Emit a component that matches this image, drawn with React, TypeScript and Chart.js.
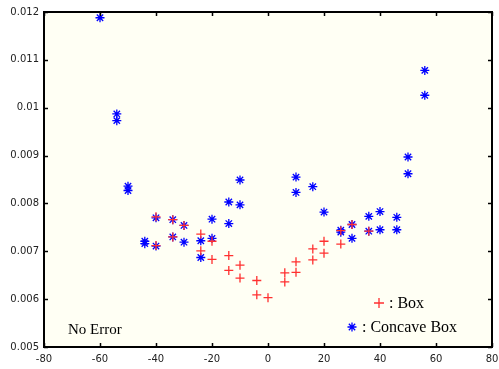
import React, { useEffect, useRef } from "react";
import { Chart, registerables } from "chart.js";

Chart.register(...registerables);

const boxAngles = [-40, -40, -34, -34, -30, -24, -24, -20, -20, -14, -14, -10, -10, -4, -4, 0, 6, 6, 10, 10, 16, 16, 20, 20, 26, 26, 30, 36];
const boxValues = [0.00772, 0.00712, 0.00766, 0.0073, 0.00754, 0.00736, 0.00701, 0.00721, 0.00683, 0.00691, 0.0066, 0.00671, 0.00644, 0.00639, 0.00609, 0.00603, 0.00655, 0.00636, 0.00678, 0.00656, 0.00705, 0.00682, 0.00721, 0.00696, 0.00743, 0.00715, 0.00756, 0.00742];

const concaveAngles = [-60, -54, -54, -50, -50, -44, -44, -40, -40, -34, -34, -30, -30, -24, -24, -20, -20, -14, -14, -10, -10, 10, 10, 16, 20, 26, 26, 30, 30, 36, 36, 40, 40, 46, 46, 50, 50, 56, 56];
const concaveValues = [0.01188, 0.00987, 0.00973, 0.00836, 0.00827, 0.00721, 0.00716, 0.0077, 0.00711, 0.00766, 0.0073, 0.00754, 0.00719, 0.00722, 0.00687, 0.00767, 0.00727, 0.00803, 0.00758, 0.00849, 0.00797, 0.00855, 0.00823, 0.00835, 0.00782, 0.00744, 0.0074, 0.00756, 0.00727, 0.00773, 0.00742, 0.00783, 0.00745, 0.00771, 0.00745, 0.00897, 0.00862, 0.01078, 0.01026];

const xTicks = [-80, -60, -40, -20, 0, 20, 40, 60, 80];
const yTicks = [0.005, 0.006, 0.007, 0.008, 0.009, 0.01, 0.011, 0.012];

const seriesLabels = ["Box", "Concave Box"];
const annotationText = "No Error";

const RED = "#ff3030";
const BLUE = "#0000ff";

const framePlugin = {
  id: "frame",
  beforeDraw(chart: any) {
    const { ctx, chartArea } = chart;
    ctx.save();
    ctx.fillStyle = "#fffff4";
    ctx.fillRect(chartArea.left, chartArea.top, chartArea.right - chartArea.left, chartArea.bottom - chartArea.top);
    ctx.restore();
  },
  afterDraw(chart: any) {
    const { ctx, chartArea } = chart;
    const xs = chart.scales.x;
    const ys = chart.scales.y;
    const { left, right, top, bottom } = chartArea;
    ctx.save();
    ctx.strokeStyle = "#000";
    ctx.lineWidth = 2;
    ctx.strokeRect(left, top, right - left, bottom - top);
    ctx.lineWidth = 1.5;
    const t = 4;
    ctx.beginPath();
    xTicks.forEach((v) => {
      const px = Math.round(xs.getPixelForValue(v)) + 0.5;
      ctx.moveTo(px, bottom);
      ctx.lineTo(px, bottom - t);
      ctx.moveTo(px, top);
      ctx.lineTo(px, top + t);
    });
    yTicks.forEach((v) => {
      const py = Math.round(ys.getPixelForValue(v)) + 0.5;
      ctx.moveTo(left, py);
      ctx.lineTo(left + t, py);
      ctx.moveTo(right, py);
      ctx.lineTo(right - t, py);
    });
    ctx.stroke();

    // annotation
    ctx.fillStyle = "#000";
    ctx.font = "15px 'Liberation Serif', serif";
    ctx.textBaseline = "middle";
    ctx.textAlign = "left";
    ctx.fillText(annotationText, left + 24, bottom - 17);

    // legend
    ctx.font = "16px 'Liberation Serif', serif";
    const lx1 = right - 113;
    const ly1 = bottom - 44;
    ctx.strokeStyle = RED;
    ctx.lineWidth = 1.3;
    ctx.beginPath();
    ctx.moveTo(lx1 - 5, ly1);
    ctx.lineTo(lx1 + 5, ly1);
    ctx.moveTo(lx1, ly1 - 5);
    ctx.lineTo(lx1, ly1 + 5);
    ctx.stroke();
    ctx.fillText(": " + seriesLabels[0], lx1 + 10, ly1 + 1);

    const lx2 = right - 140;
    const ly2 = bottom - 20;
    ctx.strokeStyle = BLUE;
    ctx.lineWidth = 1.3;
    ctx.beginPath();
    const r = 4.5;
    ctx.moveTo(lx2 - r, ly2);
    ctx.lineTo(lx2 + r, ly2);
    ctx.moveTo(lx2, ly2 - r);
    ctx.lineTo(lx2, ly2 + r);
    const d = r * 0.7071;
    ctx.moveTo(lx2 - d, ly2 - d);
    ctx.lineTo(lx2 + d, ly2 + d);
    ctx.moveTo(lx2 - d, ly2 + d);
    ctx.lineTo(lx2 + d, ly2 - d);
    ctx.stroke();
    ctx.fillText(": " + seriesLabels[1], lx2 + 10, ly2 + 1);
    ctx.restore();
  },
};

export default function App() {
  const ref = useRef<HTMLCanvasElement>(null);
  useEffect(() => {
    if (!ref.current) return;
    const chart = new Chart(ref.current, {
      type: "scatter",
      data: {
        datasets: [
          {
            label: seriesLabels[0],
            data: boxAngles.map((x, i) => ({ x, y: boxValues[i] })),
            pointStyle: "cross",
            pointRadius: 4.5,
            pointBorderWidth: 1.3,
            borderColor: RED,
            backgroundColor: RED,
          },
          {
            label: seriesLabels[1],
            data: concaveAngles.map((x, i) => ({ x, y: concaveValues[i] })),
            pointStyle: "star",
            pointRadius: 4.5,
            pointBorderWidth: 1.3,
            borderColor: BLUE,
            backgroundColor: BLUE,
          },
        ],
      },
      options: {
        animation: false,
        responsive: false,
        devicePixelRatio: 1,
        layout: { padding: { top: 12, right: 7, left: 0, bottom: 0 } },
        plugins: {
          legend: { display: false },
          tooltip: { enabled: false },
        },
        scales: {
          x: {
            type: "linear",
            min: -80,
            max: 80,
            grid: { display: false, drawTicks: false },
            border: { display: false },
            afterBuildTicks: (s: any) => {
              s.ticks = xTicks.map((v) => ({ value: v }));
            },
            ticks: {
              padding: 6,
              color: "#222",
              font: { family: "'DejaVu Sans', sans-serif", size: 10 },
              maxRotation: 0,
              autoSkip: false,
            },
            afterFit: (s: any) => {
              s.height = 22;
              s.paddingLeft = 0;
              s.paddingRight = 0;
            },
          },
          y: {
            type: "linear",
            min: 0.005,
            max: 0.012,
            grid: { display: false, drawTicks: false },
            border: { display: false },
            afterBuildTicks: (s: any) => {
              s.ticks = yTicks.map((v) => ({ value: v }));
            },
            ticks: {
              padding: 5,
              color: "#222",
              font: { family: "'DejaVu Sans', sans-serif", size: 10 },
              autoSkip: false,
              callback: (v: any) => String(Number(Number(v).toFixed(4))),
            },
            afterFit: (s: any) => {
              s.width = 44;
              s.paddingTop = 0;
              s.paddingBottom = 0;
            },
          },
        },
      },
      plugins: [framePlugin],
    });
    return () => chart.destroy();
  }, []);
  return (
    <div style={{ position: "absolute", left: 0, top: 0, width: 499, height: 369, background: "#fff" }}>
      <canvas ref={ref} width={499} height={369} style={{ display: "block" }} />
    </div>
  );
}
